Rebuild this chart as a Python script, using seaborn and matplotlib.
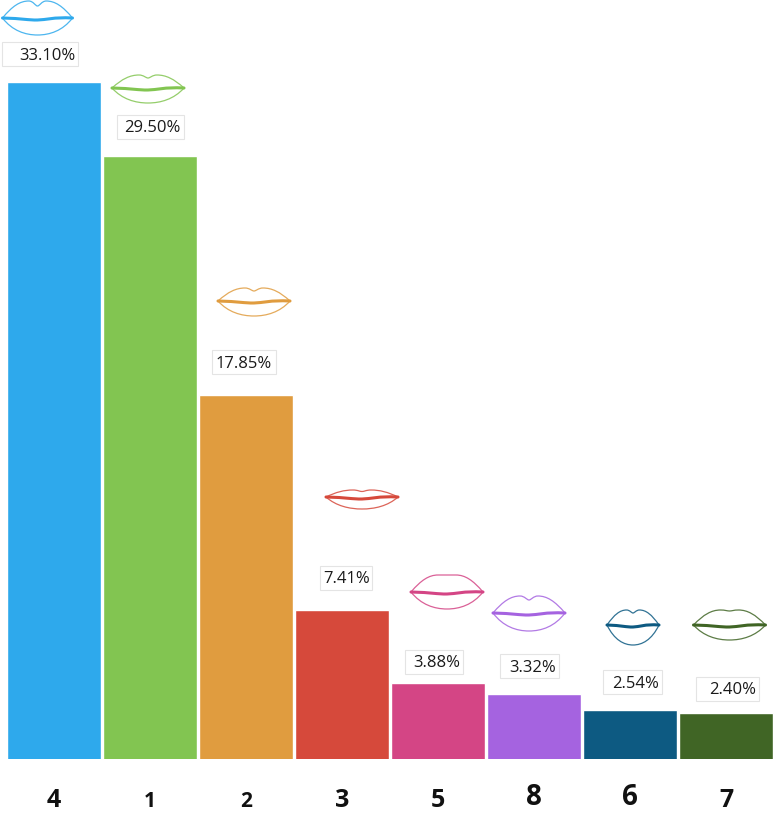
import matplotlib
matplotlib.use("Agg")
import matplotlib.pyplot as plt
import seaborn as sns
from matplotlib.patches import PathPatch, Rectangle
from matplotlib.path import Path
from matplotlib.transforms import Affine2D

categories = ["4", "1", "2", "3", "5", "8", "6", "7"]
values = [33.10, 29.50, 17.85, 7.41, 3.88, 3.32, 2.54, 2.40]
value_labels = ["33.10%", "29.50%", "17.85%", "7.41%", "3.88%", "3.32%", "2.54%", "2.40%"]
colors = ["#2EA9EC", "#82C551", "#E09C3F", "#D6493B", "#D44585", "#A563E0", "#0D5A82", "#406525"]

W, H = 774, 814
sns.set_theme(style="white")
plt.rcParams["font.family"] = ["Open Sans", "DejaVu Sans"]

fig = plt.figure(figsize=(W / 100, H / 100), dpi=100, facecolor="white")
ax = fig.add_axes([0, (H - 759) / H, 1, 759 / H])
sns.barplot(x=categories, y=values, hue=categories, palette=colors, order=categories,
            hue_order=categories, width=0.97, dodge=False, legend=False, saturation=1, ax=ax)
ax.set_xlim(-54 / 96, (W - 54) / 96)
ax.set_ylim(0.16, 37.09)
sns.despine(ax=ax, left=True, bottom=True, top=True, right=True)
ax.set_yticks([])
ax.set_xlabel("")
ax.set_ylabel("")

# tick labels imitate old-style figures: sizes and drops per digit
tick_sizes = [18, 15, 15, 18, 18, 20, 20, 18]
tick_pads = [21, 23, 23, 21, 21, 17.5, 17.5, 21]
ax.set_xticks(range(len(categories)))
ax.set_xticklabels(categories)
ax.tick_params(axis="x", length=0)
for tick, fs, pad, in zip(ax.xaxis.get_major_ticks(), tick_sizes, tick_pads):
    tick.set_pad(pad)
    tick.label1.set_fontsize(fs)
    tick.label1.set_fontweight("bold")
    tick.label1.set_color("#111111")

# overlay coordinates in image pixels (origin top-left)
px = Affine2D().scale(1, -1).translate(0, H)


def anchor(i, v):
    x, y = ax.transData.transform((i, v))
    return x, H - y


# value label: text centre relative to bar top; box (left, right) relative to text centre
text_off = [(-6.5, 27), (2, 28), (-2, 32), (5, 31), (-1, 20), (-1, 27), (6, 27), (7, 23)]
box_ext = [(46, 30), (35, 32), (32, 32), (27, 25), (32, 26), (33, 26), (33, 26), (37, 26)]
for i, v in enumerate(values):
    x, y = anchor(i, v)
    cx, cy = x + text_off[i][0], y - text_off[i][1]
    l, r = box_ext[i]
    ax.add_patch(Rectangle((cx - l, cy - 13), l + r, 24, transform=px, facecolor="white",
                           edgecolor="#E4E4E4", lw=0.8, clip_on=False, zorder=3))
    ax.text(cx, cy + 0.5, value_labels[i], transform=px, ha="center", va="center", fontsize=12,
            color="#1A1A1A", zorder=4, clip_on=False)

# lips: centre of mouth line, half width, upper height, lower height, cupid's-bow depth
lip_cx = [37.5, 148, 254, 362, 447, 529, 633, 729.5]
lip_cy = [18, 88, 301, 497, 592, 613, 625, 625]
lip_hw = [35, 36, 36, 36, 36, 36, 26, 36]
lip_up = [17, 13, 13, 7, 17, 17, 15, 15]
lip_lo = [17, 15, 15, 12, 17, 18, 20, 15]
lip_bow = [5, 3, 3, 1.5, 0, 4, 3, 1]


def lips(cx, cy, hw, up, lo, bow, color):
    M, C = Path.MOVETO, Path.CURVE4
    outline = [
        (-1, 0), (-0.72, -0.7 * up), (-0.5, -up), (-0.25, -up),
        (-0.12, -up), (-0.06, -up + bow), (0, -up + bow),
        (0.06, -up + bow), (0.12, -up), (0.25, -up),
        (0.5, -up), (0.72, -0.7 * up), (1, 0),
        (0.72, 0.75 * lo), (0.35, lo), (0, lo),
        (-0.35, lo), (-0.72, 0.75 * lo), (-1, 0),
    ]
    codes = [M] + [C] * 18
    verts = [(cx + a * hw, cy + b) for a, b in outline]
    ax.add_patch(PathPatch(Path(verts, codes), transform=px, fill=False, edgecolor=color,
                           lw=0.9, alpha=0.85, clip_on=False, zorder=5))
    mouth = [(-1, 0), (-0.45, 0.5), (-0.25, 2.2), (0, 2), (0.25, 1.8), (0.45, -1), (1, 0)]
    verts = [(cx + a * hw, cy + b) for a, b in mouth]
    ax.add_patch(PathPatch(Path(verts, [M] + [C] * 6), transform=px, fill=False, edgecolor=color,
                           lw=2.2, capstyle="round", clip_on=False, zorder=6))


for i in range(len(values)):
    lips(lip_cx[i], lip_cy[i], lip_hw[i], lip_up[i], lip_lo[i], lip_bow[i], colors[i])

fig.savefig("out.png", dpi=100, facecolor="white")
